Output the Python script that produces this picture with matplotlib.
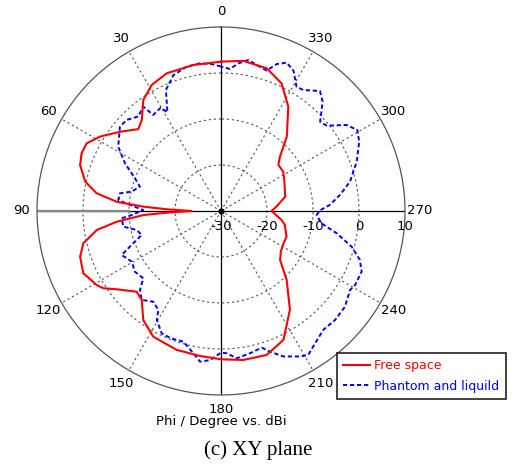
import numpy as np
import matplotlib
matplotlib.use("Agg")
import matplotlib.pyplot as plt

# Radiation pattern, XY plane (phi in degrees, gain in dBi)
free_phi = [0, 10.7, 21.5, 28.8, 35, 41.1, 45.3, 51.9, 58.4, 63.3, 67.5, 72, 77.8, 81.9, 85, 86.8, 88.2, 90,
            91.8, 93, 95.9, 98.7, 103.2, 108, 114.3, 120.8, 123.3, 126.9, 133.7, 138.3, 144.5, 151.7, 162.3,
            171.8, 180, 188.5, 197.6, 205.8, 214.9, 223.6, 230.3, 236, 242.6, 248.6, 257.7, 261.6, 270,
            275, 282.6, 295, 302.2, 308.8, 312.6, 318.5, 327.2, 334.6, 342.2, 351.6, 360]
free_gain = [2.46, 2.3, 2.17, 1.26, -0.55, -3.8, -4.7, -2.1, 0.87, 2.7, 2.8, 2.2, 0.2, -2.7, -7.3, -13.1, -18.2, -23.6,
             -18.2, -13.1, -7.2, -2.7, 0.74, 2.2, 2.85, 1.45, 0.6, -1.65, -4.6, -4.1, -0.9, 1.04, 1.7,
             1.85, 2.24, 2.75, 2.84, 1.15, -3.8, -9.3, -13.3, -14.3, -14.7, -14.7, -15.8, -16.7, -19.0,
             -17.8, -15.7, -14.8, -14.0, -14.0, -12.6, -8.4, -3.0, 0.7, 2.57, 3.0, 2.46]

phantom_phi = [0, 3.6, 8.1, 13.4, 19.3, 24.5, 28.5, 30.2, 35.2, 36.7, 41.2, 46, 50.2, 58, 63.6, 69.2, 73.3,
               77.8, 80.1, 83.9, 86.2, 89.3, 92.6, 94.2, 99.1, 102.7, 106.8, 111.4, 113.9, 119.6, 125.2,
               130.9, 134.3, 138.3, 143.3, 147.7, 149.5, 154.1, 158.5, 164, 169, 172.1, 175.8, 180, 182.3,
               186.1, 191.5, 196.6, 199.2, 203.2, 208.5, 211.2, 215.4, 220.7, 226.3, 232.3, 238.5, 241.1,
               246.7, 250.6, 254.7, 259.1, 263, 267.6, 270.5, 273.2, 277.7, 282.8, 290, 296.6, 300.7,
               304.4, 308.9, 312, 317.1, 320.5, 325.8, 328.7, 332.6, 336.1, 339.2, 342, 346.3, 349.7,
               353.3, 356.4, 360]
phantom_gain = [1.4, 2.0, 2.43, 2.24, 1.3, -1.1, -5.6, -4.0, -4.45, -1.7, -2.7, -1.5, -1.4, -3.65, -6.7, -10.0, -11.6,
                -10.1, -7.7, -7.55, -10.2, -13.1, -10.6, -8.35, -8.5, -11.2, -12.0, -8.7, -6.4, -7.7, -7.1,
                -7.65, -5.4, -4.1, -5.4, -4.5, -2.5, -0.45, -0.25, -0.43, 1.5, 3.07, 2.5, 0.8, 0.96,
                2.2, 1.57, 1.0, 2.4, 4.4, 6.0, 6.6, 5.3, 4.1, 4.3, 4.05, 2.9, 3.3,
                3.3, 2.0, -0.55, -4.4, -8.0, -9.2, -8.4, -6.3, -3.9, -1.24, 1.4, 3.6, 4.47,
                3.1, -0.47, -1.0, 2.46, 3.8, 1.8, 1.6, 4.3, 5.27, 4.17, 2.1, 2.67, 3.36,
                2.3, 0.93, 1.4]

ring_values = [-20, -10, 0]
radial_labels = ["-30", "-20", "-10", "0", "10"]
radial_label_values = [-30, -20, -10, 0, 10]
angle_labels = [0, 30, 60, 90, 120, 150, 180, 210, 240, 270, 300, 330]

R_MIN, R_MAX = -30, 10

fig = plt.figure(figsize=(5.13, 4.66), dpi=100)
ax = fig.add_axes([0.0721, 0.1524, 0.7174, 0.7897], projection="polar")
ax.set_theta_zero_location("N")
ax.set_theta_direction(1)
ax.set_ylim(R_MIN, R_MAX)
ax.grid(False)
ax.set_xticks([])
ax.set_yticks([])
ax.spines["polar"].set_color("#555555")
ax.spines["polar"].set_linewidth(0.9)

full = np.linspace(0, 2 * np.pi, 361)
grid_kw = dict(color="#555555", linewidth=0.8, linestyle=(0, (2, 2.5)))
for rv in ring_values:
    ax.plot(full, np.full_like(full, rv), **grid_kw, zorder=1)
for a in angle_labels:
    if a % 90 == 0:
        ax.plot([np.deg2rad(a)] * 2, [R_MIN, R_MAX], color="black", linewidth=0.9, zorder=1)
    else:
        ax.plot([np.deg2rad(a)] * 2, [R_MIN, R_MAX], **grid_kw, zorder=1)
ax.plot([np.deg2rad(90)] * 2, [-10, R_MAX], color="#888888", linewidth=1.6, zorder=1)
ax.plot([0], [R_MIN], marker="o", color="black", markersize=3.5, zorder=5)

label_font = dict(family="DejaVu Sans", size=9.5)
for a in angle_labels:
    if a == 180:
        continue
    ax.text(np.deg2rad(a), 13.3, str(a), ha="center", va="center", clip_on=False, **label_font)
ax.text(np.deg2rad(180), 13.1, "180", ha="center", va="center", clip_on=False, **label_font)

for txt, rv in zip(radial_labels, radial_label_values):
    ax.annotate(txt, xy=(np.deg2rad(270), rv), xytext=(0, -16), textcoords="offset pixels",
                ha="center", va="center", annotation_clip=False, **label_font)

ax.plot(np.deg2rad(free_phi), free_gain, color="#ff0000", linewidth=1.5, zorder=4,
        solid_joinstyle="round", label="Free space")
ax.plot(np.deg2rad(phantom_phi), phantom_gain, color="#0000ff", linewidth=1.4,
        linestyle=(0, (2.2, 1.4)), dash_joinstyle="round", zorder=3, label="Phantom and liquild")

fig.text(221 / 513, 1 - 421 / 466, "Phi / Degree vs. dBi", ha="center", va="center", **label_font)
fig.text(258 / 513, 1 - 450 / 466, "(c) XY plane", ha="center", va="center",
         family="Liberation Serif", size=15)

leg = fig.legend(loc="lower left", bbox_to_anchor=(337 / 513, 1 - 399 / 466), frameon=True,
                 fancybox=False, edgecolor="black", prop=dict(family="DejaVu Sans", size=9),
                 handlelength=2.1, handletextpad=0.4, borderpad=0.5, labelspacing=0.6,
                 borderaxespad=0)
leg.get_frame().set_linewidth(1.3)
for t, line in zip(leg.get_texts(), leg.get_lines()):
    t.set_color(line.get_color())

fig.savefig("out.png", dpi=100)
